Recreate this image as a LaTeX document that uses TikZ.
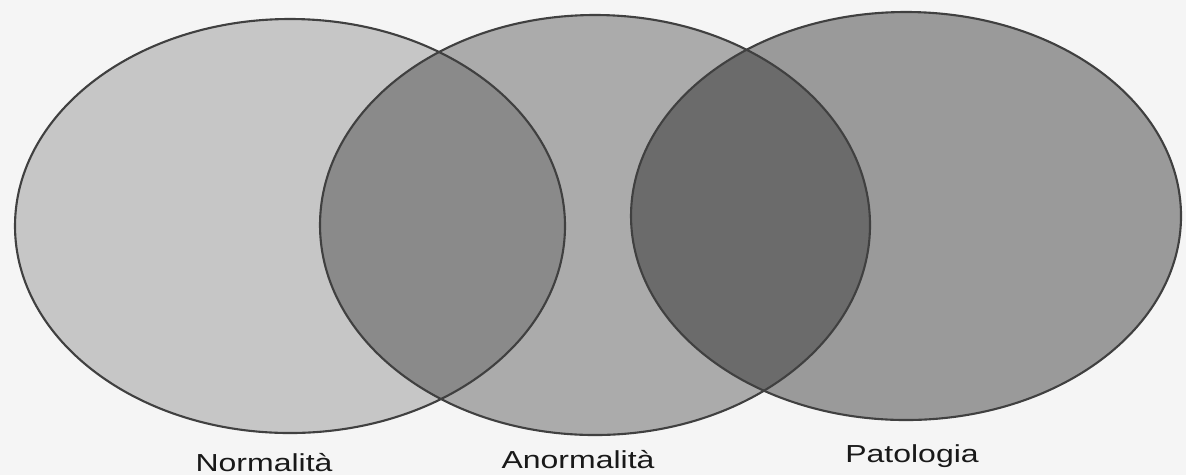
\documentclass[tikz,border=0pt]{standalone}
\usepackage{fontspec}
\newfontfamily\labelfont[FakeStretch=1.3]{Liberation Sans}
\usepackage{tikz}

\begin{document}
\begin{tikzpicture}[x=0.01cm, y=-0.01cm, font=\labelfont\fontsize{7}{8}\selectfont,
  rim/.style={draw=black!75, line width=0.6pt},
  lab/.style={anchor=base, text=black!90, inner sep=0pt}]
\fill[black!4] (0,0) rectangle (1186,475);
\useasboundingbox (0,0) rectangle (1186,475);
% the three sets: fills first, then the outlines on top
\foreach \cx/\cy/\ry/\op in {290/226/207/0.19, 595/225/210/0.30, 906/216/204/0.37}
  \fill[black, fill opacity=\op] (\cx,\cy) ellipse [x radius=275, y radius=\ry];
\foreach \cx/\cy/\ry in {290/226/207, 595/225/210, 906/216/204}
  \draw[rim] (\cx,\cy) ellipse [x radius=275, y radius=\ry];
\node[lab] (normal) at (264,471) {Normalità};
\node[lab] (anormal) at (578,468) {Anormalità};
\node[lab] (patol) at (912,462) {Patologia};
\end{tikzpicture}
\end{document}
